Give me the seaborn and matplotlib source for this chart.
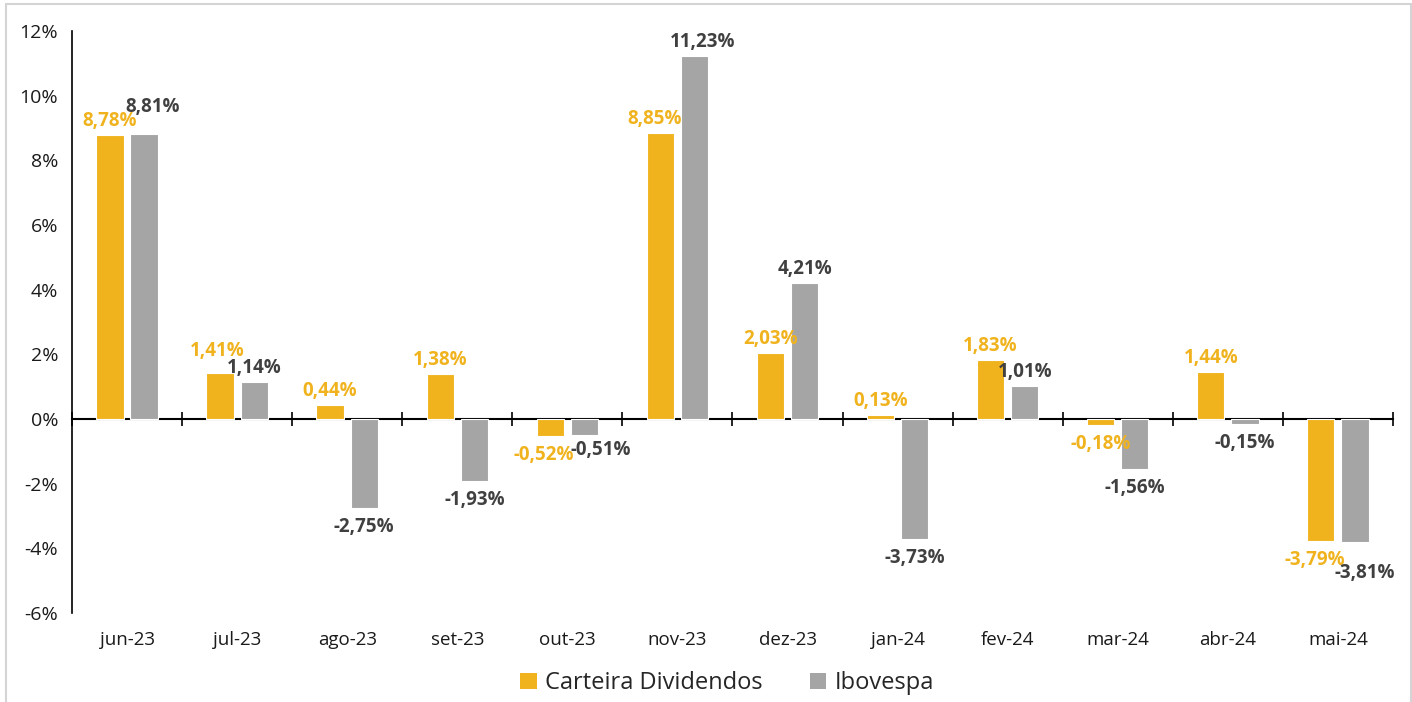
import pandas as pd
import numpy as np
import matplotlib.pyplot as plt
import seaborn as sns
from matplotlib.patches import Patch, Rectangle

meses = ["jun-23", "jul-23", "ago-23", "set-23", "out-23", "nov-23",
         "dez-23", "jan-24", "fev-24", "mar-24", "abr-24", "mai-24"]
carteira = [8.78, 1.41, 0.44, 1.38, -0.52, 8.85, 2.03, 0.13, 1.83, -0.18, 1.44, -3.79]
ibovespa = [8.81, 1.14, -2.75, -1.93, -0.51, 11.23, 4.21, -3.73, 1.01, -1.56, -0.15, -3.81]
series = ["Carteira Dividendos", "Ibovespa"]
y_ticks = [-6, -4, -2, 0, 2, 4, 6, 8, 10, 12]

cores = ["#F0B31E", "#A5A5A5"]
cores_rotulo = ["#F0B31E", "#404040"]

# ajustes manuais de rotulos que se sobrepoem (em pixels: dx, dy para cima)
ajustes = {
    ("Ibovespa", "jun-23"): (9, 13),
    ("Carteira Dividendos", "jul-23"): (-3, 8),
    ("Ibovespa", "out-23"): (16, 4),
    ("Carteira Dividendos", "out-23"): (-7, 0),
    ("Ibovespa", "mai-24"): (10, -12),
    ("Carteira Dividendos", "mai-24"): (-6, 0),
    ("Ibovespa", "nov-23"): (8, 0),
    ("Carteira Dividendos", "nov-23"): (-6, 0),
}

df = pd.DataFrame({
    "mes": meses * 2,
    "serie": [series[0]] * len(meses) + [series[1]] * len(meses),
    "valor": carteira + ibovespa,
})

sns.set_style("white")
plt.rcParams['font.family'] = ['Open Sans', 'DejaVu Sans']
plt.rcParams['axes.unicode_minus'] = False

fig = plt.figure(figsize=(14.12, 7.02), dpi=100)
ax = fig.add_axes([0.051, 0.127, 0.9355, 0.829])

sns.barplot(data=df, x="mes", y="valor", hue="serie", palette=cores,
            saturation=1, width=0.62, gap=0.2, edgecolor="white", linewidth=0.8,
            ax=ax, legend=False)

ymin, ymax = -6, 12
ax.set_ylim(ymin, ymax)
ax.set_xlim(-0.5, len(meses) - 0.5)
ax.set_xlabel("")
ax.set_ylabel("")

# eixo y
ax.set_yticks(y_ticks)
ax.set_yticklabels([f"{t}%" for t in y_ticks])
ax.tick_params(axis="y", direction="inout", length=10, width=1.2,
               color="black", labelsize=14, labelcolor="#1a1a1a", pad=5)
ax.spines["left"].set_color("black")
ax.spines["left"].set_linewidth(1.2)
for s in ["top", "right", "bottom"]:
    ax.spines[s].set_visible(False)

# rotulos das categorias embaixo
ax.tick_params(axis="x", length=0, labelsize=13.5, labelcolor="#1a1a1a", pad=13)

# linha do zero com marcas entre categorias
sec = ax.secondary_xaxis((0 - ymin) / (ymax - ymin))
sec.set_xticks(np.arange(-0.5, len(meses), 1))
sec.set_xticklabels([])
sec.tick_params(direction="inout", length=10, width=1.2, color="black")
for s in sec.spines.values():
    s.set_color("black")
    s.set_linewidth(1.5)

# rotulos de valor
valores = [carteira, ibovespa]
px = 0.72  # pontos por pixel a 100 dpi
for i, container in enumerate(ax.containers):
    for bar, mes, v in zip(container, meses, valores[i]):
        x = bar.get_x() + bar.get_width() / 2
        texto = f"{v:.2f}".replace(".", ",") + "%"
        dx, dy_extra = ajustes.get((series[i], mes), (0, 0))
        dy = 14 if v >= 0 else -19
        ax.annotate(texto, (x, v), xytext=(dx * px, (dy + dy_extra) * px),
                    textcoords="offset points",
                    ha="center", va="center", fontsize=13.5, fontweight="bold",
                    color=cores_rotulo[i])

# legenda
handles = [Patch(facecolor=c, edgecolor="none") for c in cores]
fig.legend(handles, series, loc="center", bbox_to_anchor=(0.515, 0.027),
           ncol=2, frameon=False, fontsize=17, handlelength=0.7,
           handleheight=0.7, handletextpad=0.35, columnspacing=2.0)

# moldura externa
fig.patches.append(Rectangle((0.0042, -0.01), 0.995, 1.004, transform=fig.transFigure,
                             fill=False, edgecolor="#d4d4d4", linewidth=1.5))

plt.savefig("out.png", dpi=100)
